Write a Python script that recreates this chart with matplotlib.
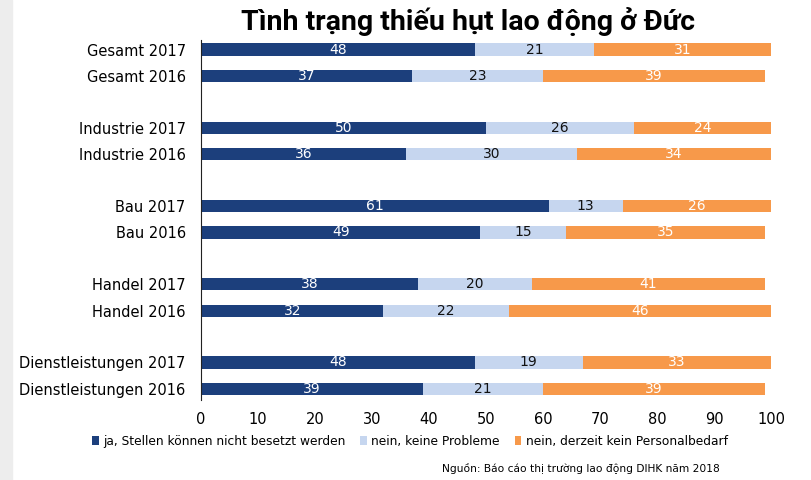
import numpy as np
import matplotlib.pyplot as plt
from matplotlib.patches import Rectangle

plt.rcParams['font.family'] = ['DejaVu Sans']

labels = ['Gesamt 2017', 'Gesamt 2016',
          'Industrie 2017', 'Industrie 2016',
          'Bau 2017', 'Bau 2016',
          'Handel 2017', 'Handel 2016',
          'Dienstleistungen 2017', 'Dienstleistungen 2016']
ja = [48, 37, 50, 36, 61, 49, 38, 32, 48, 39]
keine = [21, 23, 26, 30, 13, 15, 20, 22, 19, 21]
kein_bedarf = [31, 39, 24, 34, 26, 35, 41, 46, 33, 39]

series = ['ja, Stellen können nicht besetzt werden',
          'nein, keine Probleme',
          'nein, derzeit kein Personalbedarf']
colors = ['#1c3f7c', '#c6d6ef', '#f7994a']
text_colors = ['white', '#111111', 'white']

# vi tri: 2 hang moi nhom, khoang cach giua nhom lon hon
y = np.array([(i // 2) * 2.96 + (i % 2) for i in range(len(labels))])

fig = plt.figure(figsize=(8.11, 4.8), dpi=100)
fig.patches.append(Rectangle((0, 0), 12 / 811, 1, transform=fig.transFigure,
                             color='#ededed', zorder=0))
ax = fig.add_axes([201 / 811, 80 / 480, 570 / 811, 360 / 480])

left = np.zeros(len(labels))
for vals, c, tc, name in zip([ja, keine, kein_bedarf], colors, text_colors, series):
    vals = np.array(vals)
    ax.barh(y, vals, left=left, height=0.46, color=c, label=name)
    for yi, l, v in zip(y, left, vals):
        ax.text(l + v / 2, yi, str(v), ha='center', va='center',
                color=tc, fontsize=10)
    left = left + vals

ax.set_xlim(0, 100)
ax.set_ylim(y[-1] + 0.42, y[0] - 0.36)
ax.set_yticks(y)
ax.set_yticklabels(labels, fontsize=10.5)
ax.set_xticks(range(0, 101, 10))
ax.tick_params(axis='both', length=0, labelsize=10.5)
ax.tick_params(axis='y', pad=11)
ax.tick_params(axis='x', pad=9)
for s in ['top', 'right', 'bottom']:
    ax.spines[s].set_visible(False)
ax.spines['left'].set_color('#222222')

fig.text(468 / 811, 1 - 22 / 480, 'Tình trạng thiếu hụt lao động ở Đức',
         ha='center', va='center', fontsize=20.5, fontweight='bold',
         family=['Roboto', 'DejaVu Sans'])

fig.legend(loc='center', bbox_to_anchor=(410 / 811, 1 - 441 / 480), ncol=3,
           frameon=False, fontsize=8.8, handlelength=0.5, handleheight=0.7,
           handletextpad=0.4, columnspacing=1.2)

fig.text(720 / 811, 1 - 468 / 480, 'Nguồn: Báo cáo thị trường lao động DIHK năm 2018',
         ha='right', va='center', fontsize=7.7)

fig.savefig('out.png', dpi=100)
